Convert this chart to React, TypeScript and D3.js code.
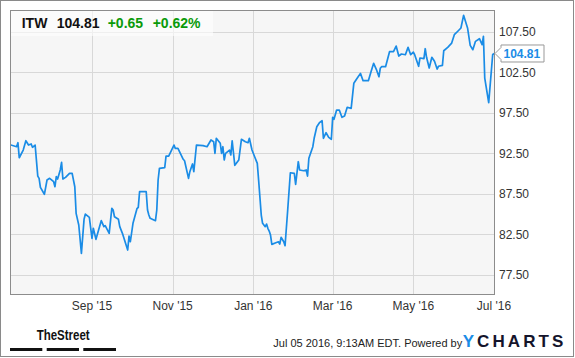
import React from "react";
import * as d3 from "d3";

const dates: string[] = [
  "2015-07-01","2015-07-06","2015-07-07","2015-07-08","2015-07-11","2015-07-13","2015-07-15","2015-07-17","2015-07-18","2015-07-20",
  "2015-07-22","2015-07-23","2015-07-24","2015-07-27","2015-07-29","2015-07-31","2015-08-03","2015-08-04","2015-08-05","2015-08-06",
  "2015-08-08","2015-08-09","2015-08-10","2015-08-12","2015-08-15","2015-08-17","2015-08-19","2015-08-20","2015-08-22","2015-08-24",
  "2015-08-26","2015-08-27","2015-08-30","2015-09-01","2015-09-02","2015-09-04","2015-09-06","2015-09-08","2015-09-10","2015-09-11",
  "2015-09-14","2015-09-16","2015-09-17","2015-09-18","2015-09-21","2015-09-22","2015-09-24","2015-09-28","2015-09-29","2015-09-30",
  "2015-10-02","2015-10-05","2015-10-06","2015-10-07","2015-10-12","2015-10-13","2015-10-14","2015-10-15","2015-10-19","2015-10-20",
  "2015-10-21","2015-10-22","2015-10-26","2015-10-27","2015-10-29","2015-11-02","2015-11-03","2015-11-05","2015-11-09","2015-11-10",
  "2015-11-13","2015-11-14","2015-11-16","2015-11-17","2015-11-19","2015-11-24","2015-11-27","2015-11-30","2015-12-02","2015-12-03",
  "2015-12-04","2015-12-07","2015-12-08","2015-12-09","2015-12-10","2015-12-11","2015-12-14","2015-12-15","2015-12-16","2015-12-18",
  "2015-12-21","2015-12-23","2015-12-26","2015-12-28","2015-12-29","2015-12-31","2016-01-02","2016-01-04","2016-01-05","2016-01-07",
  "2016-01-08","2016-01-10","2016-01-11","2016-01-12","2016-01-13","2016-01-14","2016-01-15","2016-01-18","2016-01-20","2016-01-21",
  "2016-01-22","2016-01-24","2016-01-25","2016-01-27","2016-01-29","2016-02-01","2016-02-02","2016-02-04","2016-02-05","2016-02-08",
  "2016-02-10","2016-02-11","2016-02-12","2016-02-15","2016-02-16","2016-02-18","2016-02-20","2016-02-22","2016-02-23","2016-02-25",
  "2016-02-27","2016-02-29","2016-03-01","2016-03-02","2016-03-04","2016-03-06","2016-03-08","2016-03-10","2016-03-12","2016-03-15",
  "2016-03-17","2016-03-19","2016-03-22","2016-03-24","2016-03-28","2016-03-30","2016-04-01","2016-04-03","2016-04-05","2016-04-06",
  "2016-04-07","2016-04-10","2016-04-13","2016-04-16","2016-04-18","2016-04-20","2016-04-22","2016-04-25","2016-04-27","2016-04-29",
  "2016-05-01","2016-05-02","2016-05-05","2016-05-06","2016-05-09","2016-05-10","2016-05-11","2016-05-13","2016-05-15","2016-05-17",
  "2016-05-19","2016-05-20","2016-05-23","2016-05-24","2016-05-27","2016-05-30","2016-06-01","2016-06-04","2016-06-06","2016-06-08",
  "2016-06-11","2016-06-13","2016-06-15","2016-06-17","2016-06-20","2016-06-22","2016-06-23","2016-06-24","2016-06-27","2016-06-30",
  "2016-07-01"
];

const prices: number[] = [
  93.55,93.30,93.80,91.94,92.89,94.04,93.51,93.64,93.23,93.51,
  89.68,89.40,88.29,87.43,89.19,89.40,88.98,88.36,89.60,89.31,
  90.43,91.38,89.31,89.52,90.02,90.02,88.36,85.08,83.64,80.14,
  84.34,84.99,84.59,81.99,83.23,81.87,83.02,84.17,83.43,83.55,
  82.61,85.70,85.49,84.66,84.34,83.43,82.61,80.55,82.28,81.57,
  83.85,85.65,85.82,87.75,87.75,85.49,84.87,84.46,84.17,85.49,
  89.19,90.64,90.71,92.15,92.15,93.51,93.10,93.10,91.75,91.57,
  89.40,90.22,91.17,90.22,93.51,93.43,93.30,94.13,93.92,92.49,
  94.34,93.72,92.49,93.30,91.66,92.49,92.89,92.28,94.04,91.01,
  91.66,94.22,93.92,93.80,94.34,92.89,92.07,91.25,89.19,84.87,
  83.85,83.43,83.76,83.23,82.89,82.40,81.25,81.45,81.57,81.29,
  82.12,81.57,81.08,85.49,90.09,90.02,88.66,91.45,90.43,90.34,
  90.43,89.68,91.87,93.30,94.34,95.77,96.27,96.51,94.34,95.03,
  94.46,94.22,96.93,96.68,97.83,97.83,96.93,97.09,98.17,98.04,
  101.13,101.62,102.36,101.45,101.45,102.56,103.60,102.86,101.94,102.98,
  103.18,103.18,105.03,105.03,105.73,104.50,104.75,104.66,105.57,104.66,
  104.99,104.66,103.23,104.25,104.17,105.40,104.34,103.02,104.34,103.85,
  102.89,103.23,103.35,105.15,105.57,106.10,107.13,107.62,107.96,109.52,
  107.96,105.82,105.28,106.31,106.64,105.90,106.93,101.78,98.75,104.66,
  104.81
];

const yTicks: number[] = [77.5, 82.5, 87.5, 92.5, 97.5, 102.5, 107.5];
const xTickDates: string[] = ["2015-09-01", "2015-11-01", "2016-01-01", "2016-03-01", "2016-05-01", "2016-07-01"];
const xTickLabels: string[] = ["Sep '15", "Nov '15", "Jan '16", "Mar '16", "May '16", "Jul '16"];

const ticker = "ITW";
const lastPrice = "104.81";
const change = "+0.65";
const changePct = "+0.62%";
const footerText = "Jul 05 2016, 9:13AM EDT. Powered by";

const W = 575;
const H = 358;
const L = 10, R = 494, T = 10, B = 294;
const FONT = "'Liberation Sans', Arial, sans-serif";
const BLUE = "#1a8ce6";

export default function App() {
  const parse = d3.timeParse("%Y-%m-%d");
  const data = dates.map((d, i) => ({ date: parse(d) as Date, v: prices[i] }));
  const x = d3.scaleTime().domain([parse("2015-07-01") as Date, parse("2016-07-01") as Date]).range([L, R]);
  const y = d3.scaleLinear().domain([75.12, 110.18]).range([B, T]);
  const line = d3.line<{ date: Date; v: number }>().x(d => x(d.date)).y(d => y(d.v));
  const lastV = prices[prices.length - 1];
  const ly = y(lastV);

  return (
    <svg width={W} height={H} style={{ position: "absolute", left: 0, top: 0 }} fontFamily={FONT}>
      <rect x={0} y={0} width={W} height={H} fill="#fff" />
      <rect x={0.5} y={0.5} width={573} height={356} fill="none" stroke="#8a8a8a" />
      <defs>
        <clipPath id="plotclip">
          <rect x={L} y={T} width={R - L} height={B - T} />
        </clipPath>
      </defs>
      <rect x={L} y={T} width={R - L} height={B - T} fill="#f6f6f6" />
      {yTicks.map(t => (
        <line key={"gy" + t} x1={L} x2={R} y1={Math.round(y(t)) + 0.5} y2={Math.round(y(t)) + 0.5} stroke="#d8d8d8" />
      ))}
      {xTickDates.slice(0, -1).map(d => {
        const xx = Math.round(x(parse(d) as Date)) + 0.5;
        return <line key={"gx" + d} x1={xx} x2={xx} y1={T} y2={B} stroke="#d8d8d8" />;
      })}
      <path d={line(data) || ""} fill="none" stroke={BLUE} strokeWidth={1.7} strokeLinejoin="round" clipPath="url(#plotclip)" />
      <rect x={L + 0.5} y={T + 0.5} width={R - L} height={B - T} fill="none" stroke="#8c8c8c" />

      {/* header box */}
      <rect x={L + 1} y={T + 1} width={202} height={25} fill="#fff" fillOpacity={0.6} />
      <text x={21.7} y={28.3} fontSize={14} fontWeight="bold" fill="#111">{ticker}</text>
      <text x={56.7} y={28.3} fontSize={14} fontWeight="bold" fill="#111">{lastPrice}</text>
      <text x={107.7} y={28.3} fontSize={14} fontWeight="bold" fill="#0a9a0a">{change}</text>
      <text x={152.7} y={28.3} fontSize={14} fontWeight="bold" fill="#0a9a0a">{changePct}</text>

      {/* y axis labels */}
      {yTicks.map(t => (
        <text key={"ty" + t} x={499} y={y(t) + 4.3} fontSize={12} fill="#333">{t.toFixed(2)}</text>
      ))}
      {/* x axis labels */}
      {xTickDates.map((d, i) => (
        <text key={"tx" + d} x={x(parse(d) as Date)} y={309.5} fontSize={12} fill="#333" textAnchor="middle">{xTickLabels[i]}</text>
      ))}

      {/* last value callout */}
      <path
        d={`M${R + 1},${ly} L${R + 7},${ly - 6} L${R + 7},${ly - 8.5} L${R + 50},${ly - 8.5} L${R + 50},${ly + 8.5} L${R + 7},${ly + 8.5} L${R + 7},${ly + 6} Z`}
        fill="#fff" stroke="#999"
      />
      <text x={R + 9.5} y={ly + 4.3} fontSize={12} fontWeight="bold" fill={BLUE}>{lastV.toFixed(2)}</text>

      {/* footer */}
      <text x={36.7} y={340} fontSize={15} fontWeight="bold" fill="#111" fontFamily="'Liberation Sans Narrow', 'Liberation Sans', Arial, sans-serif" textLength={53} lengthAdjust="spacingAndGlyphs">TheStreet</text>
      <rect x={10} y={348} width={32.3} height={3} fill="#111" />
      <rect x={46.7} y={348} width={32.3} height={3} fill="#111" />
      <rect x={83.3} y={348} width={32.7} height={3} fill="#111" />
      <text x={273.3} y={346.5} fontSize={11} fill="#222">{footerText}</text>
      <text x={462.7} y={347.3} fontSize={17} fontWeight="bold" textLength={100.6} lengthAdjust="spacing">
        <tspan fill="#1a8ce6">Y</tspan>
        <tspan fill="#14142b">CHARTS</tspan>
      </text>
    </svg>
  );
}
